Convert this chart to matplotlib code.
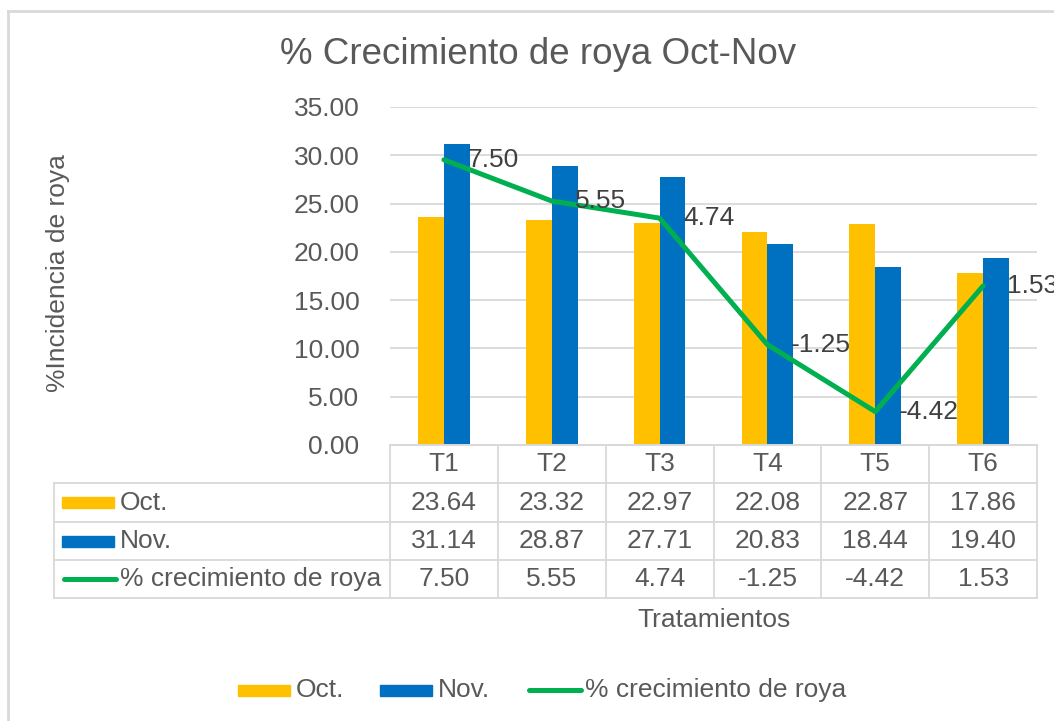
import matplotlib
matplotlib.use("Agg")
import matplotlib.pyplot as plt
from matplotlib.patches import Rectangle
from matplotlib.lines import Line2D
import numpy as np

categories = ["T1", "T2", "T3", "T4", "T5", "T6"]
oct_vals = [23.64, 23.32, 22.97, 22.08, 22.87, 17.86]
nov_vals = [31.14, 28.87, 27.71, 20.83, 18.44, 19.40]
growth = [7.50, 5.55, 4.74, -1.25, -4.42, 1.53]
series_names = ["Oct.", "Nov.", "% crecimiento de roya"]
yticks = [0, 5, 10, 15, 20, 25, 30, 35]

C_OCT = "#FFC000"
C_NOV = "#0070C0"
C_GRO = "#00B050"
TXT = "#595959"
GRID = "#D9D9D9"
FONT = "Liberation Sans"
FS = 19

plt.rcParams["font.family"] = [FONT, "DejaVu Sans"]

W, H = 1054, 721
fig = plt.figure(figsize=(W / 100, H / 100), dpi=100)


def fx(x):
    return x / W


def fy(y):
    return 1 - y / H


# plot area in pixels
L, R, T, B = 390, 1037, 107, 445
ax = fig.add_axes([fx(L), fy(B), fx(R - L), (B - T) / H])
n = len(categories)
x = np.arange(n)
bw = 0.24
ax.bar(x - bw / 2, oct_vals, bw, color=C_OCT, zorder=2)
ax.bar(x + bw / 2, nov_vals, bw, color=C_NOV, zorder=2)
ax.set_xlim(-0.5, n - 0.5)
ax.set_ylim(0, 35)
ax.set_yticks(yticks)
ax.set_yticklabels([f"{v:.2f}" for v in yticks], fontsize=FS, color=TXT)
ax.tick_params(axis="y", length=0, pad=22)
ax.set_xticks([])
ax.grid(axis="y", color=GRID, linewidth=1.3, zorder=0)
ax.set_axisbelow(True)
for s in ["top", "right", "left"]:
    ax.spines[s].set_visible(False)
ax.spines["bottom"].set_color(GRID)
ax.spines["bottom"].set_linewidth(1.3)

ax2 = ax.twinx()
ax2.set_ylim(-6, 10)
ax2.plot(x, growth, color=C_GRO, linewidth=3.6, solid_capstyle="round", zorder=3)
for xi, g in zip(x, growth):
    ax2.annotate(f"{g:.2f}", (xi, g), xytext=(17, 0), textcoords="offset points",
                 ha="left", va="center", fontsize=FS, color="#404040")
ax2.axis("off")

# Title and axis titles
fig.text(fx(538), fy(55), "% Crecimiento de roya Oct-Nov", fontsize=26.5,
         color=TXT, ha="center", va="center")
fig.text(fx(58), fy(273), "%Incidencia de roya", fontsize=FS, color=TXT,
         rotation=90, ha="center", va="center")
fig.text(fx((L + R) / 2), fy(620), "Tratamientos", fontsize=FS, color=TXT,
         ha="center", va="center")

# Data table
rows_y = [445, 483, 522, 560, 598]
colw = (R - L) / n
tl = 54
for i, yy in enumerate(rows_y):
    x0 = L if i == 0 else tl
    fig.add_artist(Line2D([fx(x0), fx(R)], [fy(yy), fy(yy)], color=GRID, lw=1.3,
                          transform=fig.transFigure))
for k in range(n + 1):
    xx = L + k * colw
    fig.add_artist(Line2D([fx(xx), fx(xx)], [fy(445), fy(598)], color=GRID, lw=1.3,
                          transform=fig.transFigure))
fig.add_artist(Line2D([fx(tl), fx(tl)], [fy(483), fy(598)], color=GRID, lw=1.3,
                      transform=fig.transFigure))

for k, c in enumerate(categories):
    cx = L + (k + 0.5) * colw
    fig.text(fx(cx), fy(464), c, fontsize=FS, color=TXT, ha="center", va="center")
    for r, vals in enumerate([oct_vals, nov_vals, growth]):
        cy = (rows_y[r + 1] + rows_y[r + 2]) / 2
        fig.text(fx(cx), fy(cy), f"{vals[k]:.2f}", fontsize=FS, color=TXT,
                 ha="center", va="center")


def legend_key(x0, cy, kind, color):
    if kind == "bar":
        fig.add_artist(Rectangle((fx(x0), fy(cy + 5.5)), fx(52), 11 / H, color=color,
                                 transform=fig.transFigure))
    else:
        fig.add_artist(Line2D([fx(x0 + 2), fx(x0 + 54)], [fy(cy), fy(cy)], color=color,
                              lw=3.6, solid_capstyle="round", transform=fig.transFigure))


kinds = ["bar", "bar", "line"]
colors = [C_OCT, C_NOV, C_GRO]
for r in range(3):
    cy = (rows_y[r + 1] + rows_y[r + 2]) / 2
    legend_key(62, cy, kinds[r], colors[r])
    fig.text(fx(120), fy(cy), series_names[r], fontsize=FS, color=TXT,
             ha="left", va="center")

# Bottom legend
leg_x = [238, 380, 527]
for r in range(3):
    legend_key(leg_x[r], 690, kinds[r], colors[r])
    fig.text(fx(leg_x[r] + 58), fy(690), series_names[r], fontsize=FS, color=TXT,
             ha="left", va="center")

# Chart border
fig.add_artist(Line2D([fx(8), fx(8)], [fy(11), 0], color=GRID, lw=2,
                      transform=fig.transFigure))
fig.add_artist(Line2D([fx(8), 1], [fy(11), fy(11)], color=GRID, lw=2,
                      transform=fig.transFigure))

fig.savefig("out.png", dpi=100)
